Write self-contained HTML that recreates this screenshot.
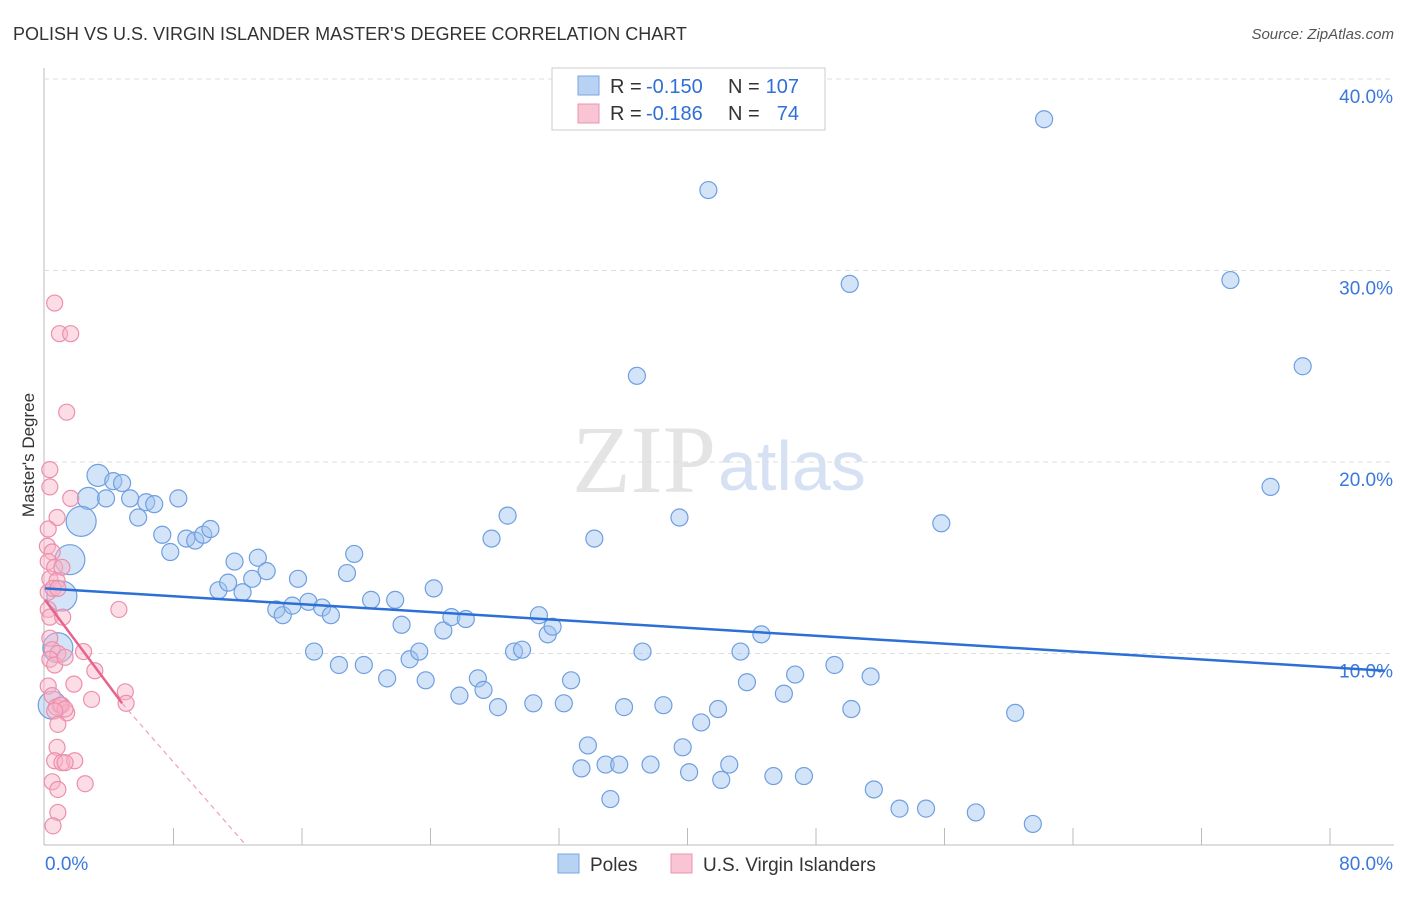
<!DOCTYPE html>
<html><head><meta charset="utf-8"><style>
body{margin:0;background:#fff;font-family:"Liberation Sans",sans-serif;}
</style></head><body>
<svg id="c" width="1406" height="892" xmlns="http://www.w3.org/2000/svg">
<text x="13" y="40" font-size="18" fill="#333">POLISH VS U.S. VIRGIN ISLANDER MASTER'S DEGREE CORRELATION CHART</text>
<text x="1394" y="39" font-size="15" fill="#555" font-style="italic" text-anchor="end">Source: ZipAtlas.com</text>
<text x="716" y="492" font-size="96" fill="#e4e4e4" text-anchor="end" font-family="Liberation Serif,serif">ZIP</text>
<text x="718" y="490" font-size="70" fill="#d6e2f3">atlas</text>
<g id="grid"></g><g id="pts"></g><g id="trend"></g>
<text x="34" y="455" font-size="17" fill="#333" transform="rotate(-90 34 455)" text-anchor="middle">Master's Degree</text>
<g>
<rect x="552" y="68" width="273" height="62" fill="#fff" stroke="#ccc"/>
<rect x="578" y="76" width="21" height="19" fill="#b8d2f3" stroke="#7aa6e0"/>
<rect x="578" y="104" width="21" height="19" fill="#f9c4d3" stroke="#ec94ae"/>
<text x="610" y="93" font-size="20" fill="#333">R =</text>
<text x="646" y="93" font-size="20" fill="#2f6fd6">-0.150</text>
<text x="728" y="93" font-size="20" fill="#333">N =</text>
<text x="799" y="93" font-size="20" fill="#2f6fd6" text-anchor="end">107</text>
<text x="610" y="120" font-size="20" fill="#333">R =</text>
<text x="646" y="120" font-size="20" fill="#2f6fd6">-0.186</text>
<text x="728" y="120" font-size="20" fill="#333">N =</text>
<text x="799" y="120" font-size="20" fill="#2f6fd6" text-anchor="end">74</text>
</g>
<g>
<rect x="558" y="854" width="21" height="19" fill="#b8d2f3" stroke="#7aa6e0"/>
<text x="590" y="871" font-size="19" fill="#333">Poles</text>
<rect x="671" y="854" width="21" height="19" fill="#f9c4d3" stroke="#ec94ae"/>
<text x="703" y="871" font-size="19" fill="#333">U.S. Virgin Islanders</text>
</g>
</svg>
<script>
const yTicks=[10,20,30,40];
const xTickVals=[0,8,16,24,32,40,48,56,64,72,80];
const blueX=[3.3,2.7,2.25,1.55,1.05,0.8,0.45,4.25,4.8,3.8,5.3,6.3,6.8,8.3,5.8,7.3,8.8,9.35,9.85,10.3,7.8,11.8,13.25,10.8,11.4,12.3,12.9,13.8,15.75,14.4,14.8,15.4,16.4,17.25,17.8,19.25,18.8,20.3,21.8,22.2,24.2,24.8,25.3,26.2,16.75,18.3,19.85,21.3,22.7,23.3,23.7,25.8,26.95,27.3,28.2,28.8,27.8,29.2,29.7,30.75,31.3,31.6,30.4,32.3,32.75,34.2,36.85,37.2,36.05,38.5,39.5,41.3,33.8,33.4,34.9,35.75,37.7,39.7,40.1,40.85,41.9,42.1,42.6,43.3,43.7,44.6,46.0,46.7,45.35,47.25,49.15,50.2,51.4,51.6,53.2,54.85,57.95,61.5,55.8,60.4,62.2,50.1,73.8,76.3,78.3,35.2];
const blueY=[19.3,18.1,16.9,14.9,13.0,10.3,7.3,19.0,18.9,18.1,18.1,17.9,17.8,18.1,17.1,16.2,16.0,15.9,16.2,16.5,15.3,14.8,15.0,13.3,13.7,13.2,13.9,14.3,13.9,12.3,12.0,12.5,12.7,12.4,12.0,15.2,14.2,12.8,12.8,11.5,13.4,11.2,11.9,11.8,10.1,9.4,9.4,8.7,9.7,10.1,8.6,7.8,8.7,8.1,7.2,17.2,16.0,10.1,10.2,12.0,11.0,11.4,7.4,7.4,8.6,16.0,24.5,10.1,7.2,7.3,17.1,34.2,5.2,4.0,4.2,4.2,4.2,5.1,3.8,6.4,7.1,3.4,4.2,10.1,8.5,11.0,7.9,8.9,3.6,3.6,9.4,7.1,8.8,2.9,1.9,1.9,1.7,1.1,16.8,6.9,37.9,29.3,29.5,18.7,25.0,2.4];
const pinkX=[0.6,0.9,1.6,1.35,0.3,0.3,1.6,0.75,0.2,0.15,0.45,0.2,0.6,1.05,0.3,0.75,0.2,0.5,0.8,0.2,0.3,1.1,4.6,0.3,0.45,0.8,2.4,0.3,0.6,1.25,3.1,0.2,0.45,1.8,5.0,2.9,5.05,0.7,1.05,1.35,0.95,1.25,0.6,0.8,0.75,0.6,1.05,1.85,1.25,0.45,2.5,0.8,0.8,0.5];
const pinkY=[28.3,26.7,26.7,22.6,19.6,18.7,18.1,17.1,16.5,15.6,15.3,14.8,14.5,14.5,13.9,13.8,13.2,13.4,13.4,12.3,11.9,11.9,12.3,10.8,10.2,10.0,10.1,9.7,9.4,9.8,9.1,8.3,7.8,8.4,8.0,7.6,7.4,7.2,7.3,6.9,7.3,7.1,7.0,6.3,5.1,4.4,4.3,4.4,4.3,3.3,3.2,2.9,1.7,1.0];
const blueR=[11,11,15,15,15,15,14];
const X0=45,X1=1330,Y0=845;
const xs=v=>X0+(v/80)*(X1-X0);
const ys=v=>Y0-v*19.15;
const NS="http://www.w3.org/2000/svg";
function mk(tag,a,p){const e=document.createElementNS(NS,tag);for(const k in a)e.setAttribute(k,a[k]);p.appendChild(e);return e;}
const grid=document.getElementById('grid');
let ax=mk('line',{x1:44,y1:68,x2:44,y2:845,stroke:'#bbb'},grid);


let bx=mk('line',{x1:44,y1:845,x2:1394,y2:845,stroke:'#bbb'},grid);


yTicks.forEach(t=>{
 const g=mk('line',{x1:44,y1:ys(t),x2:1394,y2:ys(t),stroke:'#ddd','stroke-dasharray':'5,4'},grid);
 
 
 const l=mk('text',{x:1393,y:ys(t)+24,'font-size':19,fill:'#3a78dc','text-anchor':'end'},grid);
 l.textContent=t.toFixed(1)+'%';
 
 
});
xTickVals.forEach((t,i)=>{if(i==0)return;
 const k=mk('line',{x1:xs(t),y1:828,x2:xs(t),y2:845,stroke:'#bbb'},grid);
 
 
});
[['0.0%',45,'start'],['80.0%',1393,'end']].forEach(([s,x,a])=>{
 const l=mk('text',{x:x,y:870,'font-size':19,fill:'#3a78dc','text-anchor':a},grid);l.textContent=s;
 
 
});
const pts=document.getElementById('pts');
blueX.forEach((v,i)=>{
 const c=mk('circle',{cx:xs(v),cy:ys(blueY[i]),r:blueR[i]||8.5,fill:'rgba(160,195,240,0.45)',stroke:'#6e9fe0','stroke-width':1.2},pts);
 
 
});
pinkX.forEach((v,i)=>{
 const c=mk('circle',{cx:xs(v),cy:ys(pinkY[i]),r:8,fill:'rgba(248,180,200,0.45)',stroke:'#ec8fac','stroke-width':1.2},pts);
 
 
});
const tr=document.getElementById('trend');
let b=mk('line',{x1:xs(0),y1:ys(13.4),x2:1385,y2:ys(9.1),stroke:'#2c6fd6','stroke-width':2.5},tr);


let p=mk('line',{x1:xs(0),y1:ys(12.8),x2:xs(4.8),y2:ys(7.4),stroke:'#e8638c','stroke-width':2.5},tr);


let pd=mk('line',{x1:xs(4.8),y1:ys(7.4),x2:xs(12.5),y2:ys(0),stroke:'#eea0b8','stroke-width':1.2,'stroke-dasharray':'5,4'},tr);


</script>
</body></html>
